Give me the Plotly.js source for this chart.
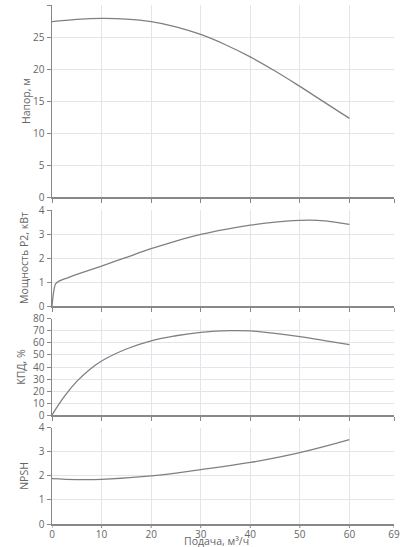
<!DOCTYPE html>
<html>
<head>
<meta charset="utf-8">
<script src="https://cdn.plot.ly/plotly-3.0.1.min.js"></script>
<style>html,body{margin:0;padding:0;background:#fff}#chart{width:402px;height:547px}</style>
</head>
<body>
<div id="chart"></div>
<script>
var qHead = [0,5,10,15,20,25,30,35,40,45,50,55,60];
var head = [27.4,27.75,27.9,27.8,27.4,26.6,25.4,23.8,21.9,19.7,17.3,14.8,12.3];

var qPower = [0,0.3,0.7,1.5,3,5,10,15,20,25,30,35,40,45,50,52,55,58,60];
var power = [0,0.55,0.92,1.05,1.17,1.32,1.67,2.03,2.39,2.71,2.99,3.2,3.37,3.5,3.57,3.58,3.55,3.47,3.40];

var qEff = [0,2.5,5,7.5,10,15,20,25,30,36,40,45,50,55,60];
var eff = [0,15.5,28,37.5,45,55,61.8,66,68.8,70.2,70,68,65.3,62,58.7];

var qNpsh = [0,5,10,20,30,40,50,60];
var npsh = [1.89,1.85,1.86,2.0,2.26,2.56,2.97,3.51];

var xTicks = [0,10,20,30,40,50,60,69];

var lineStyle = {color:'#808080', width:1.3, shape:'spline', smoothing:1.2};
var traces = [
  {x:qHead, y:head, xaxis:'x', yaxis:'y', mode:'lines', line:lineStyle, hoverinfo:'skip'},
  {x:qPower, y:power, xaxis:'x2', yaxis:'y2', mode:'lines', line:{color:'#808080', width:1.3, shape:'spline', smoothing:0.6}, hoverinfo:'skip'},
  {x:qEff, y:eff, xaxis:'x3', yaxis:'y3', mode:'lines', line:lineStyle, hoverinfo:'skip'},
  {x:qNpsh, y:npsh, xaxis:'x4', yaxis:'y4', mode:'lines', line:lineStyle, hoverinfo:'skip'}
];

var fam = '"Open Sans", sans-serif';
var tickFont = {family:fam, size:10, color:'#666'};
var titleFont = {family:fam, size:10.5, color:'#666'};
function xa(anchor, labels){
  return {anchor:anchor, range:[0,69], tickvals:xTicks, ticktext:xTicks.map(String),
    showgrid:true, gridcolor:'#e4e4ea', gridwidth:1, showline:true, linecolor:'#888', linewidth:1.5,
    ticks: labels ? '' : 'outside', ticklen:4, tickcolor:'#888', showticklabels:labels, zeroline:false,
    tickfont:tickFont};
}
function ya(anchor, dom, rng, dt, title, so){
  return {anchor:anchor, domain:dom, range:rng, dtick:dt, tick0:0,
    showgrid:true, gridcolor:'#e4e4ea', gridwidth:1, showline:true, linecolor:'#888', linewidth:1.5,
    ticks:'outside', ticklen:4, tickcolor:'#888', zeroline:false,
    tickfont:tickFont,
    title:{text:title, font:titleFont, standoff:so}};
}
// tick marks for bottom axis (labels sit close to the axis as in the reference)
var tickShapes = xTicks.map(function(v){
  return {type:'line', xref:'x4', yref:'paper', x0:v, x1:v, ysizemode:'pixel', yanchor:0, y0:0, y1:-4,
    line:{color:'#888', width:1}, layer:'above'};
});
var layout = {
  width:402, height:547,
  margin:{l:52, r:8, t:5, b:23},
  paper_bgcolor:'#fff', plot_bgcolor:'#fff',
  showlegend:false, font:titleFont,
  xaxis: xa('y', false),
  xaxis2: xa('y2', false),
  xaxis3: xa('y3', false),
  xaxis4: xa('y4', true),
  yaxis: ya('x', [0.6296,1], [0,30], 5, 'Напор, м', 0),
  yaxis2: ya('x2', [0.4198,0.6049], [0,4], 1, 'Мощность P2, кВт', 8),
  yaxis3: ya('x3', [0.2099,0.3951], [0,80], 10, 'КПД, %', 5),
  yaxis4: ya('x4', [0,0.1852], [0,4], 1, 'NPSH', 8),
  shapes: tickShapes,
  annotations:[{text:'Подача, м³/ч', xref:'paper', yref:'paper', x:0.48, y:-0.032, xanchor:'center', yanchor:'middle',
    showarrow:false, font:titleFont}]
};
Plotly.newPlot('chart', traces, layout, {staticPlot:true, displayModeBar:false});
</script>
</body>
</html>
